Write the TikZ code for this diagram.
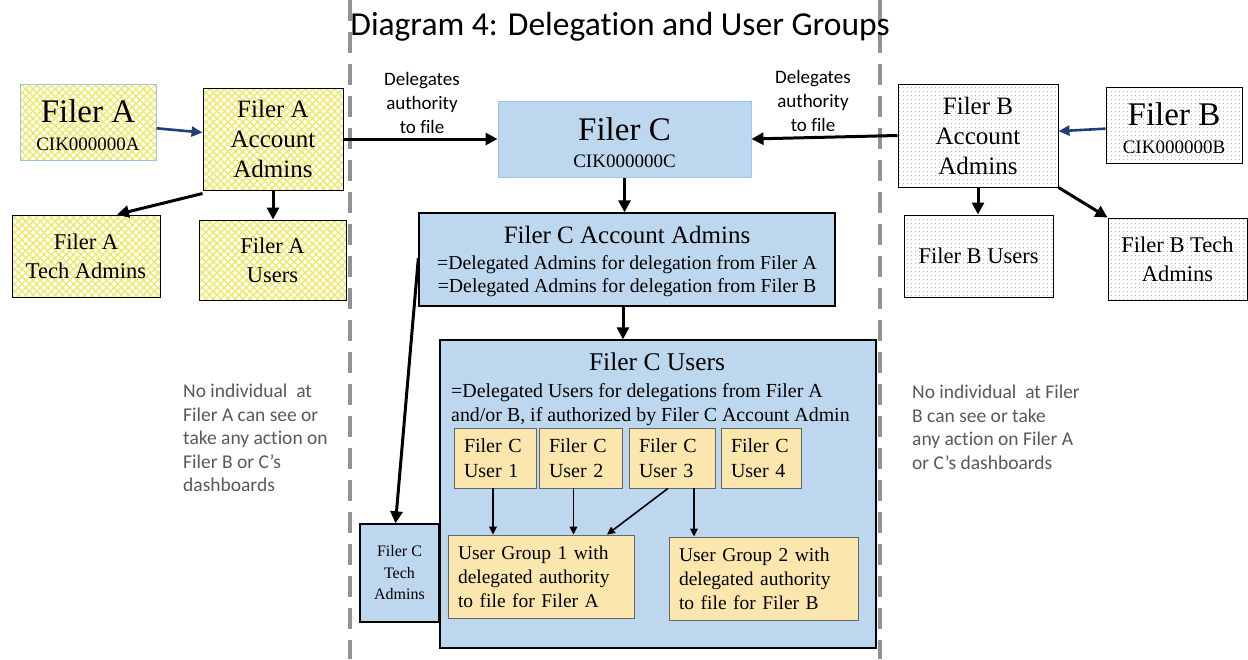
\documentclass[tikz,border=0pt]{standalone}
\usepackage{fontspec}
\setmainfont{Liberation Serif}
\newfontfamily\calfont[Ligatures={NoCommon,NoContextual,NoRare}]{Carlito}
\usetikzlibrary{arrows.meta,patterns.meta}
\definecolor{cblue}{HTML}{BDD7EE}
\definecolor{cborder}{HTML}{9DC3E6}
\definecolor{cream}{HTML}{FBE7AE}
\definecolor{ayel}{HTML}{EFE96A}
\definecolor{bdot}{HTML}{A497B5}
\definecolor{navy}{HTML}{203E7A}
\definecolor{notegray}{HTML}{595959}
\definecolor{dashgray}{HTML}{929292}
\begin{document}
\begin{tikzpicture}[x=1pt,y=-1pt,
  every node/.style={inner sep=0pt},
  abox/.style={draw=black,line width=1pt,
    preaction={fill=white},
    preaction={pattern={Lines[angle=45,distance=5.2pt,line width=1.4pt]},pattern color=ayel},
    preaction={pattern={Lines[angle=-45,distance=5.2pt,line width=1.4pt]},pattern color=ayel}},
  bbox/.style={draw=black,line width=1pt,
    preaction={fill=white},
    preaction={pattern={Dots[radius=0.6pt,distance=4pt]},pattern color=bdot}},
  cbox/.style={draw=black,fill=cblue,line width=1.3pt},
  ubox/.style={draw=black!60,fill=cream,line width=0.8pt,align=left,inner xsep=10pt},
  bigtxt/.style={font=\fontsize{25}{30}\selectfont,align=center},
  midtxt/.style={font=\fontsize{22.5}{29}\selectfont,align=center},
  usrtxt/.style={font=\fontsize{20}{25}\selectfont},
  grptxt/.style={font=\fontsize{19.5}{24}\selectfont},
  notetxt/.style={font=\calfont\fontsize{19.5}{23.5}\selectfont,text=notegray,align=left},
  deltxt/.style={font=\calfont\fontsize{19}{24}\selectfont,align=center},
  arr/.style={line width=3pt,-{Triangle[length=12pt,width=12pt]}},
  sarr/.style={line width=1.6pt,-{Triangle[length=8pt,width=7.5pt]}},
  narr/.style={draw=navy,line width=2.6pt,-{Triangle[length=11pt,width=10pt]}},
  dashln/.style={draw=dashgray,line width=3.8pt,dash pattern=on 21pt off 11pt}
]
\fill[white] (0,0) rectangle (1248,659);
\useasboundingbox (0,0) rectangle (1248,659);

% dashed separators
\coordinate (d1t) at (350,0);
\coordinate (d1b) at (350,659);
\coordinate (d2t) at (880,0);
\coordinate (d2b) at (880,659);
\draw[dashln] (d1t) -- (d1b);
\draw[dashln] (d2t) -- (d2b);

% title
\node[font=\calfont\fontsize{33.5}{33.5}\selectfont,anchor=base] (title) at (620,35) {Diagram 4: Delegat\kern0pt ion and User Groups};

% Filer A side
\node[abox,draw=cborder,minimum width=136pt,minimum height=76pt] (fa) at (88,122) {};
\node[font=\fontsize{33}{33}\selectfont,anchor=base] (faT) at (88,122) {Filer A};
\node[font=\fontsize{19}{19}\selectfont,anchor=base] (faC) at (88,150) {CIK000000A};
\node[abox,bigtxt,minimum width=140pt,minimum height=102pt] (faa) at (273,139) {Filer A\\Account\\Admins};
\node[abox,midtxt,minimum width=148pt,minimum height=82pt] (fat) at (86,256) {Filer A\\Tech Admins};
\node[abox,midtxt,minimum width=147pt,minimum height=80pt] (fau) at (272.5,260) {Filer A\\Users};

% Filer B side
\node[bbox,minimum width=136pt,minimum height=76pt] (fb) at (1174,125) {};
\node[font=\fontsize{33}{33}\selectfont,anchor=base] (fbT) at (1174,125) {Filer B};
\node[font=\fontsize{19}{19}\selectfont,anchor=base] (fbC) at (1174,153) {CIK000000B};
\node[bbox,bigtxt,minimum width=160pt,minimum height=103pt] (fba) at (978,135.5) {Filer B\\Account\\Admins};
\node[bbox,midtxt,minimum width=149pt,minimum height=82pt] (fbu) at (978.5,256) {Filer B Users};
\node[bbox,midtxt,minimum width=139pt,minimum height=82pt] (fbt) at (1177.5,259) {Filer B Tech\\Admins};

% Filer C
\node[draw=cborder,fill=cblue,line width=1pt,minimum width=253pt,minimum height=76pt] (fc) at (624.5,139) {};
\node[font=\fontsize{33}{33}\selectfont,anchor=base] (fcT) at (624.5,140) {Filer C};
\node[font=\fontsize{19}{19}\selectfont,anchor=base] (fcC) at (624.5,167) {CIK000000C};

\node[cbox,minimum width=416pt,minimum height=93pt] (fca) at (627,259.5) {};
\node[font=\fontsize{25}{25}\selectfont,anchor=base] (fcaT) at (627,243) {Filer C Account Admins};
\node[font=\fontsize{19.8}{20}\selectfont,anchor=base] (fcaL1) at (627,269.5) {=Delegated Admins for delegation from Filer A};
\node[font=\fontsize{19.8}{20}\selectfont,anchor=base] (fcaL2) at (627,292) {=Delegated Admins for delegation from Filer B};

\node[cbox,minimum width=436pt,minimum height=308pt] (fcu) at (658,494) {};
\node[font=\fontsize{25.5}{25.5}\selectfont,anchor=base] (fcuT) at (657,370) {Filer C Users};
\node[font=\fontsize{19.9}{20}\selectfont,anchor=base west] (fcuL1) at (451,397) {=Delegated Users for delegations from Filer A};
\node[font=\fontsize{19.9}{20}\selectfont,anchor=base west] (fcuL2) at (451,421) {and/or B, if authorized by Filer C Account Admin};

\node[cbox,font=\fontsize{16}{21.5}\selectfont,align=center,minimum width=79pt,minimum height=98pt] (fct) at (399.5,573) {Filer C\\Tech\\Admins};

\node[ubox,usrtxt,text width=62pt,minimum height=60pt] (u1) at (495,458) {Filer C\\User 1};
\node[ubox,usrtxt,text width=63pt,minimum height=60pt] (u2) at (580.5,458) {Filer C\\User 2};
\node[ubox,usrtxt,text width=66pt,minimum height=60pt] (u3) at (672,458) {Filer C\\User 3};
\node[ubox,usrtxt,text width=60pt,minimum height=60pt] (u4) at (761,458) {Filer C\\User 4};

\node[ubox,grptxt,text width=166pt,minimum height=83pt] (ug1) at (541,576.5) {User Group 1 with\\delegated authority\\to file for Filer A};
\node[ubox,grptxt,text width=169pt,minimum height=83pt] (ug2) at (763.5,578.5) {User Group 2 with\\delegated authority\\to file for Filer B};

% labels and notes
\node[deltxt,anchor=north] (dl) at (422,72) {Delegates\\authority\\to file};
\node[deltxt,anchor=north] (dr) at (813,70) {Delegates\\authority\\to file};
\node[notetxt,anchor=north west] (nl) at (183,384) {No individual\ \ at\\Filer A can see or\\take any act\kern0pt ion on\\Filer B or C’s\\dashboards};
\node[notetxt,anchor=north west] (nr) at (912,385) {No individual\ \ at Filer\\B can see or take\\any act\kern0pt ion on Filer A\\or C’s dashboards};

% connectors
\draw[narr] (fa) -- (faa);
\draw[arr] ([yshift=-3pt]faa.south west) -- ([xshift=31pt]fat.north);
\draw[arr] (faa.south) -- (faa.south |- fau.north);
\draw[arr] (faa) -- (fc);
\draw[narr] (fb) -- (fba);
\draw[arr] (fba.west) -- (fc.east);
\draw[arr] (fba.south) -- (fba.south |- fbu.north);
\draw[arr] (fba.south east) -- (fbt.north west);
\draw[arr] (fc.south) -- (fc.south |- fca.north);
\draw[arr] ([xshift=-4pt]fca.south) -- ([xshift=-4pt]fca.south |- fcu.north);
\draw[arr] ([yshift=1.5pt]fca.west) -- ([xshift=-4pt]fct.north);
\draw[sarr] ([xshift=-2pt]u1.south) -- ([xshift=-2pt]u1.south |- ug1.north);
\draw[sarr] ([xshift=-7pt]u2.south) -- ([xshift=-7pt]u2.south |- ug1.north);
\draw[sarr] ([xshift=-4pt]u3.south) -- ([xshift=66pt]ug1.north);
\draw[sarr] ([xshift=22pt]u3.south) -- ([xshift=22pt]u3.south |- ug2.north);
\end{tikzpicture}
\end{document}
